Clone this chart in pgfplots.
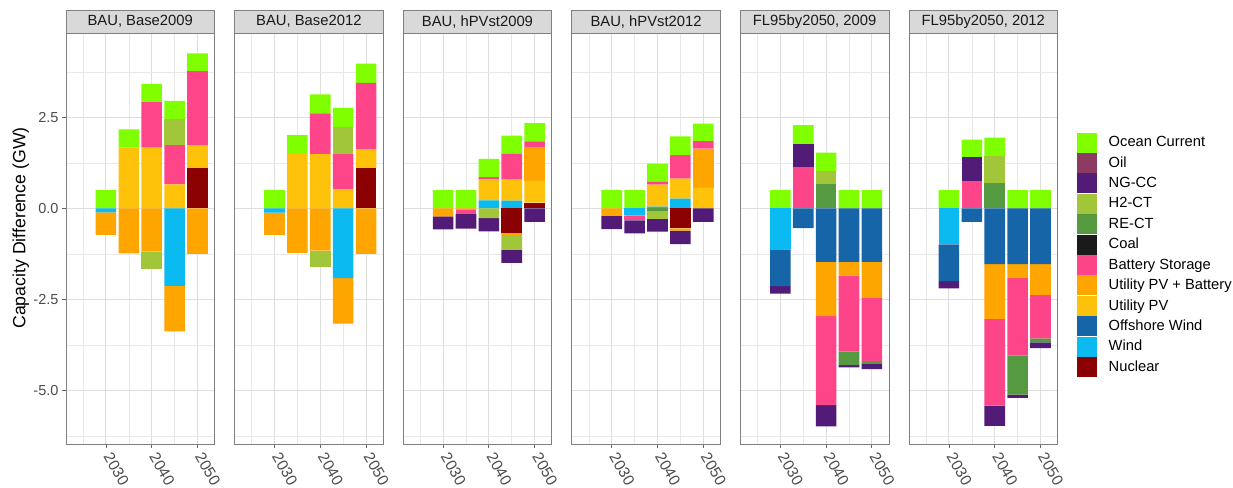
\documentclass[border=0pt]{standalone}
\usepackage{pgfplots}
\pgfplotsset{compat=1.18}
\usepackage{fontspec}
\setmainfont{Liberation Sans}
\definecolor{cOcean}{HTML}{7FFF00}
\definecolor{cOil}{HTML}{8B3A62}
\definecolor{cNG}{HTML}{521B78}
\definecolor{cH2}{HTML}{A2C63A}
\definecolor{cRE}{HTML}{559940}
\definecolor{cCoal}{HTML}{1A1A1A}
\definecolor{cBat}{HTML}{FF4589}
\definecolor{cUPVB}{HTML}{FFA500}
\definecolor{cUPV}{HTML}{FFC20A}
\definecolor{cOff}{HTML}{1565A8}
\definecolor{cWind}{HTML}{0ABAF0}
\definecolor{cNuc}{HTML}{8B0000}
\pgfplotsset{
  panel/.style={scale only axis, width=148.5pt, height=410.7pt, anchor=south west,
    xmin=2021.275, xmax=2053.725, ymin=-6.475, ymax=4.81,
    ybar stacked, bar width=4.5,
    /pgf/number format/assume math mode=true},
  framed/.style={
    axis line style={draw=black!50, line width=0.8pt},
    grid=both,
    major grid style={draw=black!13, line width=1pt},
    minor grid style={draw=black!9, line width=0.6pt},
    xtick={2030,2040,2050}, xticklabels={2030,2040,2050},
    minor xtick={2025,2035,2045},
    ytick={-5,-2.5,0,2.5},
    minor ytick={-6.25,-3.75,-1.25,1.25,3.75},
    tick pos=left, tick align=outside,
    major tick length=4pt, minor tick length=0pt,
    tick style={draw=black!60, line width=0.8pt},
    xticklabel shift=3pt,
    xticklabel style={rotate=-60, anchor=west, font=\fontsize{15.5}{18}\selectfont, text=black!70},
    every axis title/.style={at={(0.5,1)}, anchor=south, fill=black!15, draw=black!50, line width=0.8pt,
      minimum width=148.5pt, minimum height=23.3pt, inner sep=0pt, outer sep=0pt,
      font=\fontsize{14.8}{17}\selectfont, text=black!90},
  },
  inner/.style={yticklabels={}, ytick style={draw=none}},
  hidden/.style={hide axis},
  key/.style={legend image code/.code={\fill[#1] (0pt,-9.5pt) rectangle (19pt,9.5pt); \path (31.6pt,0pt);}},
}
\begin{document}
\begin{tikzpicture}
\path[use as bounding box] (0pt,0pt) rectangle (1233pt,-487pt);
% ---------------- Panel 1
\begin{axis}[panel, framed, at={(66pt,-444pt)}, title={BAU, Base2009},
  yticklabels={-5.0,-2.5,0.0,2.5},
  yticklabel style={font=\fontsize{14.5}{17}\selectfont, text=black!70},
  ylabel={Capacity Difference (GW)},
  ylabel style={at={(rel axis cs:-0.305,0.526)}, anchor=center, font=\fontsize{17.7}{21}\selectfont}]
\addplot[fill=cNuc, draw=none] coordinates {(2030,0) (2035,0) (2040,0) (2045,0) (2050,1.10)};
\addplot[fill=cUPV, draw=none] coordinates {(2030,0) (2035,1.67) (2040,1.67) (2045,0.66) (2050,0.64)};
\addplot[fill=cBat, draw=none] coordinates {(2030,0) (2035,0) (2040,1.25) (2045,1.08) (2050,2.03)};
\addplot[fill=cH2, draw=none] coordinates {(2030,0) (2035,0) (2040,0) (2045,0.71) (2050,0)};
\addplot[fill=cOcean, draw=none] coordinates {(2030,0.50) (2035,0.50) (2040,0.50) (2045,0.50) (2050,0.49)};
\end{axis}
\begin{axis}[panel, hidden, at={(66pt,-444pt)}]
\addplot[fill=cWind, draw=none] coordinates {(2030,-0.11) (2035,0) (2040,0) (2045,-2.13) (2050,0)};
\addplot[fill=cUPVB, draw=none] coordinates {(2030,-0.62) (2035,-1.24) (2040,-1.19) (2045,-1.25) (2050,-1.25)};
\addplot[fill=cH2, draw=none] coordinates {(2030,0) (2035,0) (2040,-0.48) (2045,0) (2050,0)};
\end{axis}
% ---------------- Panel 2
\begin{axis}[panel, framed, inner, at={(234.6pt,-444pt)}, title={BAU, Base2012}]
\addplot[fill=cNuc, draw=none] coordinates {(2030,0) (2035,0) (2040,0) (2045,0) (2050,1.10)};
\addplot[fill=cUPV, draw=none] coordinates {(2030,0) (2035,1.49) (2040,1.49) (2045,0.53) (2050,0.53)};
\addplot[fill=cBat, draw=none] coordinates {(2030,0) (2035,0) (2040,1.12) (2045,0.96) (2050,1.82)};
\addplot[fill=cH2, draw=none] coordinates {(2030,0) (2035,0) (2040,0) (2045,0.75) (2050,0)};
\addplot[fill=cOcean, draw=none] coordinates {(2030,0.50) (2035,0.52) (2040,0.52) (2045,0.52) (2050,0.53)};
\end{axis}
\begin{axis}[panel, hidden, at={(234.6pt,-444pt)}]
\addplot[fill=cWind, draw=none] coordinates {(2030,-0.12) (2035,0) (2040,0) (2045,-1.92) (2050,0)};
\addplot[fill=cUPVB, draw=none] coordinates {(2030,-0.61) (2035,-1.22) (2040,-1.16) (2045,-1.25) (2050,-1.25)};
\addplot[fill=cH2, draw=none] coordinates {(2030,0) (2035,0) (2040,-0.44) (2045,0) (2050,0)};
\end{axis}
% ---------------- Panel 3
\begin{axis}[panel, framed, inner, at={(403.2pt,-444pt)}, title={BAU, hPVst2009}]
\addplot[fill=cNuc, draw=none] coordinates {(2030,0) (2035,0) (2040,0) (2045,0) (2050,0.16)};
\addplot[fill=cWind, draw=none] coordinates {(2030,0) (2035,0) (2040,0.22) (2045,0.21) (2050,0)};
\addplot[fill=cUPV, draw=none] coordinates {(2030,0) (2035,0) (2040,0.58) (2045,0.58) (2050,0.60)};
\addplot[fill=cUPVB, draw=none] coordinates {(2030,0) (2035,0) (2040,0) (2045,0) (2050,0.92)};
\addplot[fill=cBat, draw=none] coordinates {(2030,0) (2035,0) (2040,0.06) (2045,0.71) (2050,0.16)};
\addplot[fill=cOcean, draw=none] coordinates {(2030,0.50) (2035,0.50) (2040,0.50) (2045,0.50) (2050,0.50)};
\end{axis}
\begin{axis}[panel, hidden, at={(403.2pt,-444pt)}]
\addplot[fill=cNuc, draw=none] coordinates {(2030,0) (2035,0) (2040,0) (2045,-0.67) (2050,0)};
\addplot[fill=cUPVB, draw=none] coordinates {(2030,-0.22) (2035,-0.04) (2040,0) (2045,-0.06) (2050,0)};
\addplot[fill=cBat, draw=none] coordinates {(2030,0) (2035,-0.12) (2040,0) (2045,0) (2050,0)};
\addplot[fill=cH2, draw=none] coordinates {(2030,0) (2035,0) (2040,-0.27) (2045,-0.41) (2050,0)};
\addplot[fill=cNG, draw=none] coordinates {(2030,-0.36) (2035,-0.40) (2040,-0.36) (2045,-0.36) (2050,-0.37)};
\end{axis}
% ---------------- Panel 4
\begin{axis}[panel, framed, inner, at={(571.8pt,-444pt)}, title={BAU, hPVst2012}]
\addplot[fill=cWind, draw=none] coordinates {(2030,0) (2035,0) (2040,0.05) (2045,0.27) (2050,0)};
\addplot[fill=cUPV, draw=none] coordinates {(2030,0) (2035,0) (2040,0.60) (2045,0.55) (2050,0.57)};
\addplot[fill=cUPVB, draw=none] coordinates {(2030,0) (2035,0) (2040,0) (2045,0) (2050,1.07)};
\addplot[fill=cBat, draw=none] coordinates {(2030,0) (2035,0) (2040,0.08) (2045,0.64) (2050,0.21)};
\addplot[fill=cOcean, draw=none] coordinates {(2030,0.50) (2035,0.50) (2040,0.50) (2045,0.52) (2050,0.48)};
\end{axis}
\begin{axis}[panel, hidden, at={(571.8pt,-444pt)}]
\addplot[fill=cNuc, draw=none] coordinates {(2030,0) (2035,0) (2040,0) (2045,-0.55) (2050,0)};
\addplot[fill=cWind, draw=none] coordinates {(2030,0) (2035,-0.17) (2040,0) (2045,0) (2050,0)};
\addplot[fill=cUPVB, draw=none] coordinates {(2030,-0.21) (2035,-0.04) (2040,0) (2045,-0.06) (2050,0)};
\addplot[fill=cBat, draw=none] coordinates {(2030,0) (2035,-0.12) (2040,0) (2045,0) (2050,0)};
\addplot[fill=cRE, draw=none] coordinates {(2030,0) (2035,0) (2040,-0.08) (2045,0) (2050,0)};
\addplot[fill=cH2, draw=none] coordinates {(2030,0) (2035,0) (2040,-0.20) (2045,0) (2050,0)};
\addplot[fill=cNG, draw=none] coordinates {(2030,-0.36) (2035,-0.36) (2040,-0.36) (2045,-0.37) (2050,-0.37)};
\end{axis}
% ---------------- Panel 5
\begin{axis}[panel, framed, inner, at={(740.4pt,-444pt)}, title={FL95by2050, 2009}]
\addplot[fill=cBat, draw=none] coordinates {(2030,0) (2035,1.13) (2040,0) (2045,0) (2050,0)};
\addplot[fill=cRE, draw=none] coordinates {(2030,0) (2035,0) (2040,0.67) (2045,0) (2050,0)};
\addplot[fill=cH2, draw=none] coordinates {(2030,0) (2035,0) (2040,0.36) (2045,0) (2050,0)};
\addplot[fill=cNG, draw=none] coordinates {(2030,0) (2035,0.64) (2040,0) (2045,0) (2050,0)};
\addplot[fill=cOcean, draw=none] coordinates {(2030,0.50) (2035,0.52) (2040,0.50) (2045,0.50) (2050,0.50)};
\end{axis}
\begin{axis}[panel, hidden, at={(740.4pt,-444pt)}]
\addplot[fill=cWind, draw=none] coordinates {(2030,-1.13) (2035,0) (2040,0) (2045,0) (2050,0)};
\addplot[fill=cOff, draw=none] coordinates {(2030,-1.01) (2035,-0.54) (2040,-1.47) (2045,-1.47) (2050,-1.47)};
\addplot[fill=cUPVB, draw=none] coordinates {(2030,0) (2035,0) (2040,-1.49) (2045,-0.38) (2050,-0.99)};
\addplot[fill=cBat, draw=none] coordinates {(2030,0) (2035,0) (2040,-2.45) (2045,-2.09) (2050,-1.74)};
\addplot[fill=cRE, draw=none] coordinates {(2030,0) (2035,0) (2040,0) (2045,-0.37) (2050,-0.06)};
\addplot[fill=cNG, draw=none] coordinates {(2030,-0.20) (2035,0) (2040,-0.58) (2045,-0.06) (2050,-0.16)};
\end{axis}
% ---------------- Panel 6
\begin{axis}[panel, framed, inner, at={(909pt,-444pt)}, title={FL95by2050, 2012}]
\addplot[fill=cBat, draw=none] coordinates {(2030,0) (2035,0.75) (2040,0) (2045,0) (2050,0)};
\addplot[fill=cRE, draw=none] coordinates {(2030,0) (2035,0) (2040,0.69) (2045,0) (2050,0)};
\addplot[fill=cH2, draw=none] coordinates {(2030,0) (2035,0) (2040,0.75) (2045,0) (2050,0)};
\addplot[fill=cNG, draw=none] coordinates {(2030,0) (2035,0.65) (2040,0) (2045,0) (2050,0)};
\addplot[fill=cOcean, draw=none] coordinates {(2030,0.50) (2035,0.49) (2040,0.50) (2045,0.50) (2050,0.50)};
\end{axis}
\begin{axis}[panel, hidden, at={(909pt,-444pt)}]
\addplot[fill=cWind, draw=none] coordinates {(2030,-0.99) (2035,0) (2040,0) (2045,0) (2050,0)};
\addplot[fill=cOff, draw=none] coordinates {(2030,-1.01) (2035,-0.37) (2040,-1.53) (2045,-1.53) (2050,-1.53)};
\addplot[fill=cUPVB, draw=none] coordinates {(2030,0) (2035,0) (2040,-1.51) (2045,-0.39) (2050,-0.85)};
\addplot[fill=cBat, draw=none] coordinates {(2030,0) (2035,0) (2040,-2.38) (2045,-2.13) (2050,-1.19)};
\addplot[fill=cRE, draw=none] coordinates {(2030,0) (2035,0) (2040,0) (2045,-1.07) (2050,-0.11)};
\addplot[fill=cNG, draw=none] coordinates {(2030,-0.20) (2035,0) (2040,-0.56) (2045,-0.09) (2050,-0.16)};
\end{axis}
% ---------------- Legend
\begin{axis}[scale only axis, width=148.5pt, height=410.7pt, anchor=south west, at={(909pt,-444pt)},
  xmin=0, xmax=1, ymin=0, ymax=1, hide axis, legend cell align=left,
  legend style={at={(1.1293,0.758)}, anchor=north west, draw=none, fill=none,
    inner sep=0pt, outer sep=0pt, row sep=1.0pt,
    nodes={inner sep=0pt, font=\fontsize{14.7}{17}\selectfont, text=black}}]
\addlegendimage{key=cOcean}\addlegendentry{Ocean Current}
\addlegendimage{key=cOil}\addlegendentry{Oil}
\addlegendimage{key=cNG}\addlegendentry{NG-CC}
\addlegendimage{key=cH2}\addlegendentry{H2-CT}
\addlegendimage{key=cRE}\addlegendentry{RE-CT}
\addlegendimage{key=cCoal}\addlegendentry{Coal}
\addlegendimage{key=cBat}\addlegendentry{Battery Storage}
\addlegendimage{key=cUPVB}\addlegendentry{Utility PV + Battery}
\addlegendimage{key=cUPV}\addlegendentry{Utility PV}
\addlegendimage{key=cOff}\addlegendentry{Offshore Wind}
\addlegendimage{key=cWind}\addlegendentry{Wind}
\addlegendimage{key=cNuc}\addlegendentry{Nuclear}
\end{axis}
\end{tikzpicture}
\end{document}
